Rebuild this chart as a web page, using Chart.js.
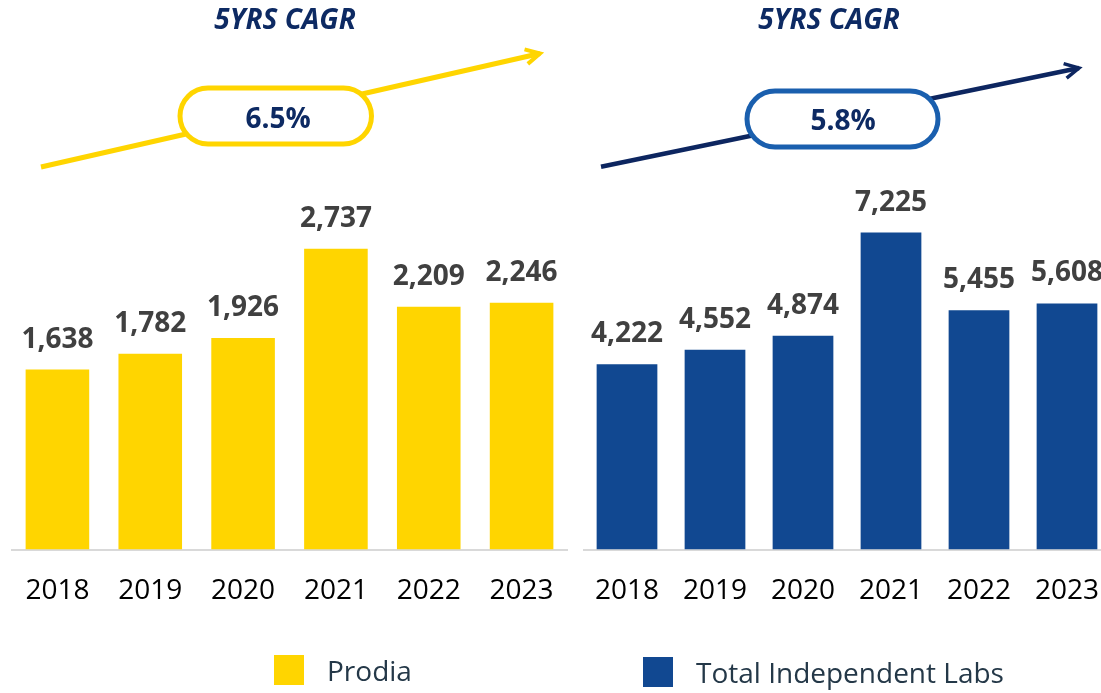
<!DOCTYPE html>
<html>
<head>
<meta charset="utf-8">
<title>5YRS CAGR</title>
<script src="https://cdn.jsdelivr.net/npm/chart.js@4.4.1/dist/chart.umd.min.js"></script>
<style>
  html, body { margin: 0; padding: 0; background: #fff; overflow: hidden; }
  body { width: 1101px; height: 693px; position: relative; font-family: "Open Sans", sans-serif; }
  canvas { position: absolute; top: 0; }
  #c-prodia { left: 11px; }
  #c-labs   { left: 583px; }
  .key { position: absolute; display: flex; align-items: center; font-size: 28px; line-height: 28px; color: #243848; white-space: nowrap; }
  .key i { display: inline-block; width: 30px; height: 30px; margin-right: 23px; }
</style>
</head>
<body>
<canvas id="c-prodia" width="557" height="693"></canvas>
<canvas id="c-labs" width="528" height="693"></canvas>
<div class="key" style="left:274px; top:655px;"><i style="background:#FFD500"></i>Prodia</div>
<div class="key" style="left:643px; top:657px;"><i style="background:#114891"></i>Total Independent Labs</div>

<script>
/* ── Data ── */
const years      = ['2018', '2019', '2020', '2021', '2022', '2023'];
const prodiaVals = [1638, 1782, 1926, 2737, 2209, 2246];
const labsVals   = [4222, 4552, 4874, 7225, 5455, 5608];
const cagrLabels = ['6.5%', '5.8%'];
const titleText  = '5YRS CAGR';

const NAVY = '#0D2A63';
const AXIS_H = 75;       // fixed height for the x axis box
const BASE_Y = 549.5;    // where the baseline should sit

/* ── Value labels above bars ── */
const valueLabels = {
  id: 'valueLabels',
  afterDatasetsDraw(chart) {
    const ctx = chart.ctx;
    const meta = chart.getDatasetMeta(0);
    const vals = chart.data.datasets[0].data;
    ctx.save();
    ctx.font = 'bold 28px "Open Sans"';
    ctx.fillStyle = '#404040';
    ctx.textAlign = 'center';
    ctx.textBaseline = 'alphabetic';
    meta.data.forEach((bar, i) => {
      ctx.fillText(vals[i].toLocaleString('en-US'), bar.x, bar.y - 22);
    });
    ctx.restore();
  }
};

/* ── CAGR arrow + pill + heading ── */
const cagrBadge = {
  id: 'cagrBadge',
  afterDraw(chart, args, o) {
    if (!o || !o.text) return;
    const ctx = chart.ctx;
    const dx = chart.canvas.offsetLeft;
    ctx.save();
    ctx.translate(-dx, 0);

    // heading
    ctx.font = 'italic bold 28px "Open Sans"';
    ctx.fillStyle = NAVY;
    ctx.textAlign = 'center';
    ctx.textBaseline = 'alphabetic';
    ctx.fillText(titleText, o.titleX, 29);

    // arrow line
    const [x0, y0] = o.from, [x1, y1] = o.to;
    ctx.strokeStyle = o.arrow;
    ctx.lineWidth = o.lineW;
    ctx.beginPath();
    ctx.moveTo(x0, y0);
    ctx.lineTo(x1, y1);
    ctx.stroke();
    // head
    const ang = Math.atan2(y1 - y0, x1 - x0);
    const len = 16, spread = Math.PI / 6.5;
    ctx.lineWidth = o.lineW - 1;
    ctx.beginPath();
    ctx.moveTo(x1 - len * Math.cos(ang - spread), y1 - len * Math.sin(ang - spread));
    ctx.lineTo(x1, y1);
    ctx.lineTo(x1 - len * Math.cos(ang + spread), y1 - len * Math.sin(ang + spread));
    ctx.stroke();

    // pill
    const p = o.pill, r = p.h / 2;
    ctx.beginPath();
    ctx.moveTo(p.x + r, p.y);
    ctx.lineTo(p.x + p.w - r, p.y);
    ctx.arc(p.x + p.w - r, p.y + r, r, -Math.PI / 2, Math.PI / 2);
    ctx.lineTo(p.x + r, p.y + p.h);
    ctx.arc(p.x + r, p.y + r, r, Math.PI / 2, Math.PI * 1.5);
    ctx.closePath();
    ctx.fillStyle = '#fff';
    ctx.fill();
    ctx.strokeStyle = o.ring;
    ctx.lineWidth = 5;
    ctx.stroke();

    ctx.font = 'bold 28px "Open Sans"';
    ctx.fillStyle = NAVY;
    ctx.fillText(o.text, o.textX, o.textY);
    ctx.restore();
  }
};

function makeChart(id, values, color, yMax, padTop, barPct, badge) {
  const canvas = document.getElementById(id);
  return new Chart(canvas, {
    type: 'bar',
    data: {
      labels: years,
      datasets: [{
        data: values,
        backgroundColor: color,
        borderWidth: 0,
        categoryPercentage: 1,
        barPercentage: barPct,
      }]
    },
    options: {
      responsive: false,
      animation: false,
      layout: { padding: { top: padTop, bottom: canvas.height - BASE_Y - AXIS_H, left: 0, right: 0 } },
      plugins: {
        legend: { display: false },
        tooltip: { enabled: false },
        cagrBadge: badge,
      },
      scales: {
        x: {
          clip: false,
          grid: { display: false, drawTicks: true, tickLength: 25 },
          border: { display: true, color: '#D9D9D9', width: 2 },
          ticks: {
            color: '#000',
            padding: 0,
            maxRotation: 0,
            autoSkip: false,
            font: { family: 'Open Sans', size: 28 },
          },
          afterFit(scale) {
            scale.height = AXIS_H;
            scale.paddingLeft = 0;
            scale.paddingRight = 0;
          },
        },
        y: { display: false, min: 0, max: yMax },
      }
    },
    plugins: [valueLabels, cagrBadge]
  });
}

makeChart('c-prodia', prodiaVals, '#FFD500', 3300, 187, 0.685, {
  text: cagrLabels[0], titleX: 285,
  from: [41, 167], to: [540, 53.5], arrow: '#FFD500', lineW: 5,
  pill: { x: 180, y: 88, w: 191.5, h: 56 }, ring: '#FFD500',
  textX: 278, textY: 127.5,
});

makeChart('c-labs', labsVals, '#114891', 8000, 198.5, 0.69, {
  text: cagrLabels[1], titleX: 829,
  from: [601, 166.7], to: [1079, 68], arrow: '#0D2660', lineW: 4.5,
  pill: { x: 747, y: 91, w: 191, h: 56 }, ring: '#1A5FAE',
  textX: 843, textY: 130,
});
</script>
</body>
</html>
